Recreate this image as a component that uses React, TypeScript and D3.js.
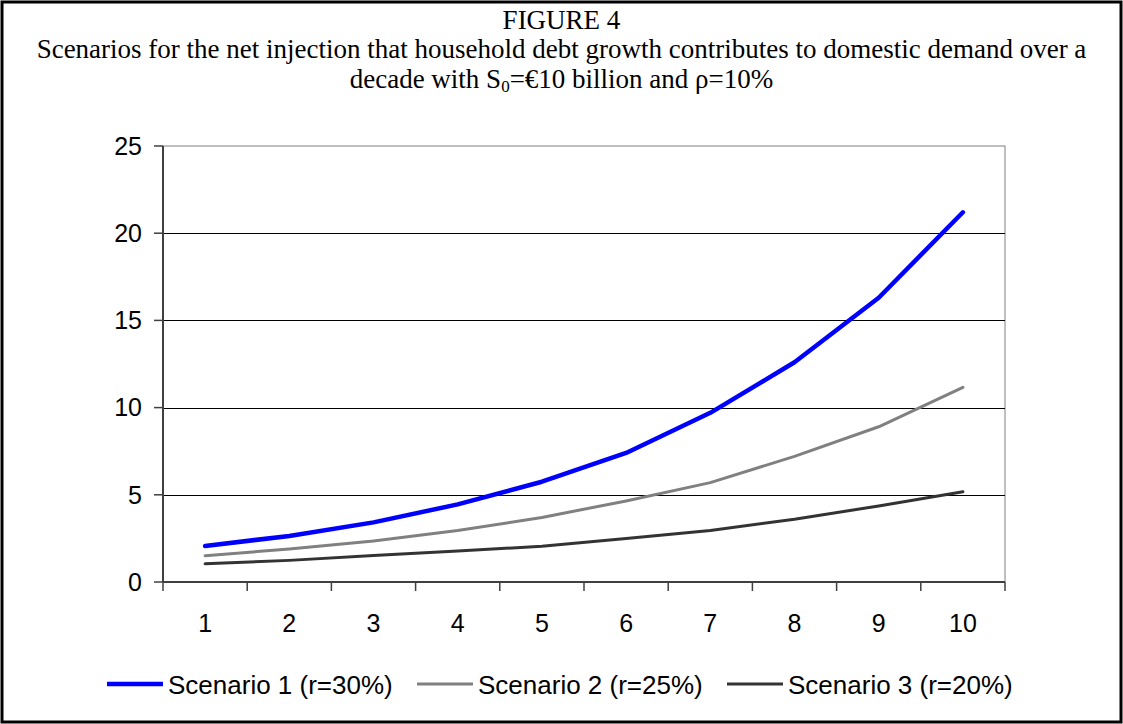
import React from "react";
import * as d3 from "d3";

const categories = ["1", "2", "3", "4", "5", "6", "7", "8", "9", "10"];
const scenario1 = [2.07, 2.64, 3.42, 4.45, 5.75, 7.4, 9.7, 12.6, 16.3, 21.2];
const scenario2 = [1.51, 1.89, 2.35, 2.95, 3.7, 4.65, 5.7, 7.2, 8.9, 11.16];
const scenario3 = [1.05, 1.24, 1.52, 1.78, 2.05, 2.5, 2.95, 3.6, 4.36, 5.18];
const yTicks = [0, 5, 10, 15, 20, 25];
const seriesNames = ["Scenario 1 (r=30%)", "Scenario 2 (r=25%)", "Scenario 3 (r=20%)"];

const W = 1123;
const H = 724;
const plot = { left: 163, right: 1005, top: 146, bottom: 582 };

export default function App() {
  const x = d3.scaleBand<string>().domain(categories).range([plot.left, plot.right]).padding(0);
  const y = d3.scaleLinear().domain([0, 25]).range([plot.bottom, plot.top]);
  const cx = (c: string) => (x(c) as number) + x.bandwidth() / 2;
  const line = d3
    .line<number>()
    .x((_, i) => cx(categories[i]))
    .y((v) => y(v));

  const series = [
    { name: seriesNames[0], values: scenario1, color: "#0000FF", width: 4.5 },
    { name: seriesNames[1], values: scenario2, color: "#808080", width: 3 },
    { name: seriesNames[2], values: scenario3, color: "#333333", width: 3 },
  ];

  const serif = "'Liberation Serif', 'Times New Roman', serif";
  const sans = "'Liberation Sans', Arial, sans-serif";
  const tickBounds = d3.range(categories.length + 1).map((i) => plot.left + i * x.bandwidth());

  return (
    <svg
      width={W}
      height={H}
      viewBox={`0 0 ${W} ${H}`}
      style={{ position: "absolute", left: 0, top: 0, background: "#fff" }}
    >
      <rect x={0} y={0} width={W} height={H} fill="#fff" />
      <rect x={2} y={2} width={W - 4} height={H - 4} fill="none" stroke="#000" strokeWidth={3} />

      <g fontFamily={serif} fontSize={27} textAnchor="middle" fill="#000">
        <text x={W / 2} y={29}>FIGURE 4</text>
        <text x={W / 2} y={58}>
          Scenarios for the net injection that household debt growth contributes to domestic demand over a
        </text>
        <text x={W / 2} y={88}>
          decade with S<tspan fontSize={17} dy={4}>0</tspan>
          <tspan dy={-4}>=€10 billion and ρ=10%</tspan>
        </text>
      </g>

      {/* plot area border */}
      <rect
        x={plot.left}
        y={plot.top}
        width={plot.right - plot.left}
        height={plot.bottom - plot.top}
        fill="none"
        stroke="#808080"
        strokeWidth={1}
      />

      {/* gridlines */}
      {yTicks
        .filter((t) => t > 0 && t < 25)
        .map((t) => (
          <line
            key={t}
            x1={plot.left}
            x2={plot.right}
            y1={Math.round(y(t)) + 0.5}
            y2={Math.round(y(t)) + 0.5}
            stroke="#000"
            strokeWidth={1}
          />
        ))}

      {/* y axis */}
      <line x1={plot.left} x2={plot.left} y1={plot.top} y2={plot.bottom} stroke="#404040" strokeWidth={2} />
      {yTicks.map((t) => (
        <g key={t}>
          <line x1={plot.left - 9} x2={plot.left} y1={y(t)} y2={y(t)} stroke="#404040" strokeWidth={1.5} />
          <text
            x={142}
            y={y(t)}
            dy="0.35em"
            textAnchor="end"
            fontFamily={sans}
            fontSize={25}
            fill="#000"
          >
            {t}
          </text>
        </g>
      ))}

      {/* x axis */}
      <line x1={plot.left} x2={plot.right} y1={plot.bottom} y2={plot.bottom} stroke="#404040" strokeWidth={2} />
      {tickBounds.map((tx, i) => (
        <line key={i} x1={tx} x2={tx} y1={plot.bottom} y2={plot.bottom + 9} stroke="#404040" strokeWidth={1.5} />
      ))}
      {categories.map((c) => (
        <text key={c} x={cx(c)} y={632} textAnchor="middle" fontFamily={sans} fontSize={25} fill="#000">
          {c}
        </text>
      ))}

      {/* series */}
      {series.map((s) => (
        <path
          key={s.name}
          d={line(s.values) as string}
          fill="none"
          stroke={s.color}
          strokeWidth={s.width}
          strokeLinejoin="round"
          strokeLinecap="round"
        />
      ))}

      {/* legend */}
      {series.map((s, i) => {
        const lx = 107 + i * 310;
        return (
          <g key={s.name}>
            <line x1={lx} x2={lx + 56} y1={684} y2={684} stroke={s.color} strokeWidth={s.width} />
            <text x={lx + 61} y={694} fontFamily={sans} fontSize={26} fill="#000">
              {s.name}
            </text>
          </g>
        );
      })}
    </svg>
  );
}
